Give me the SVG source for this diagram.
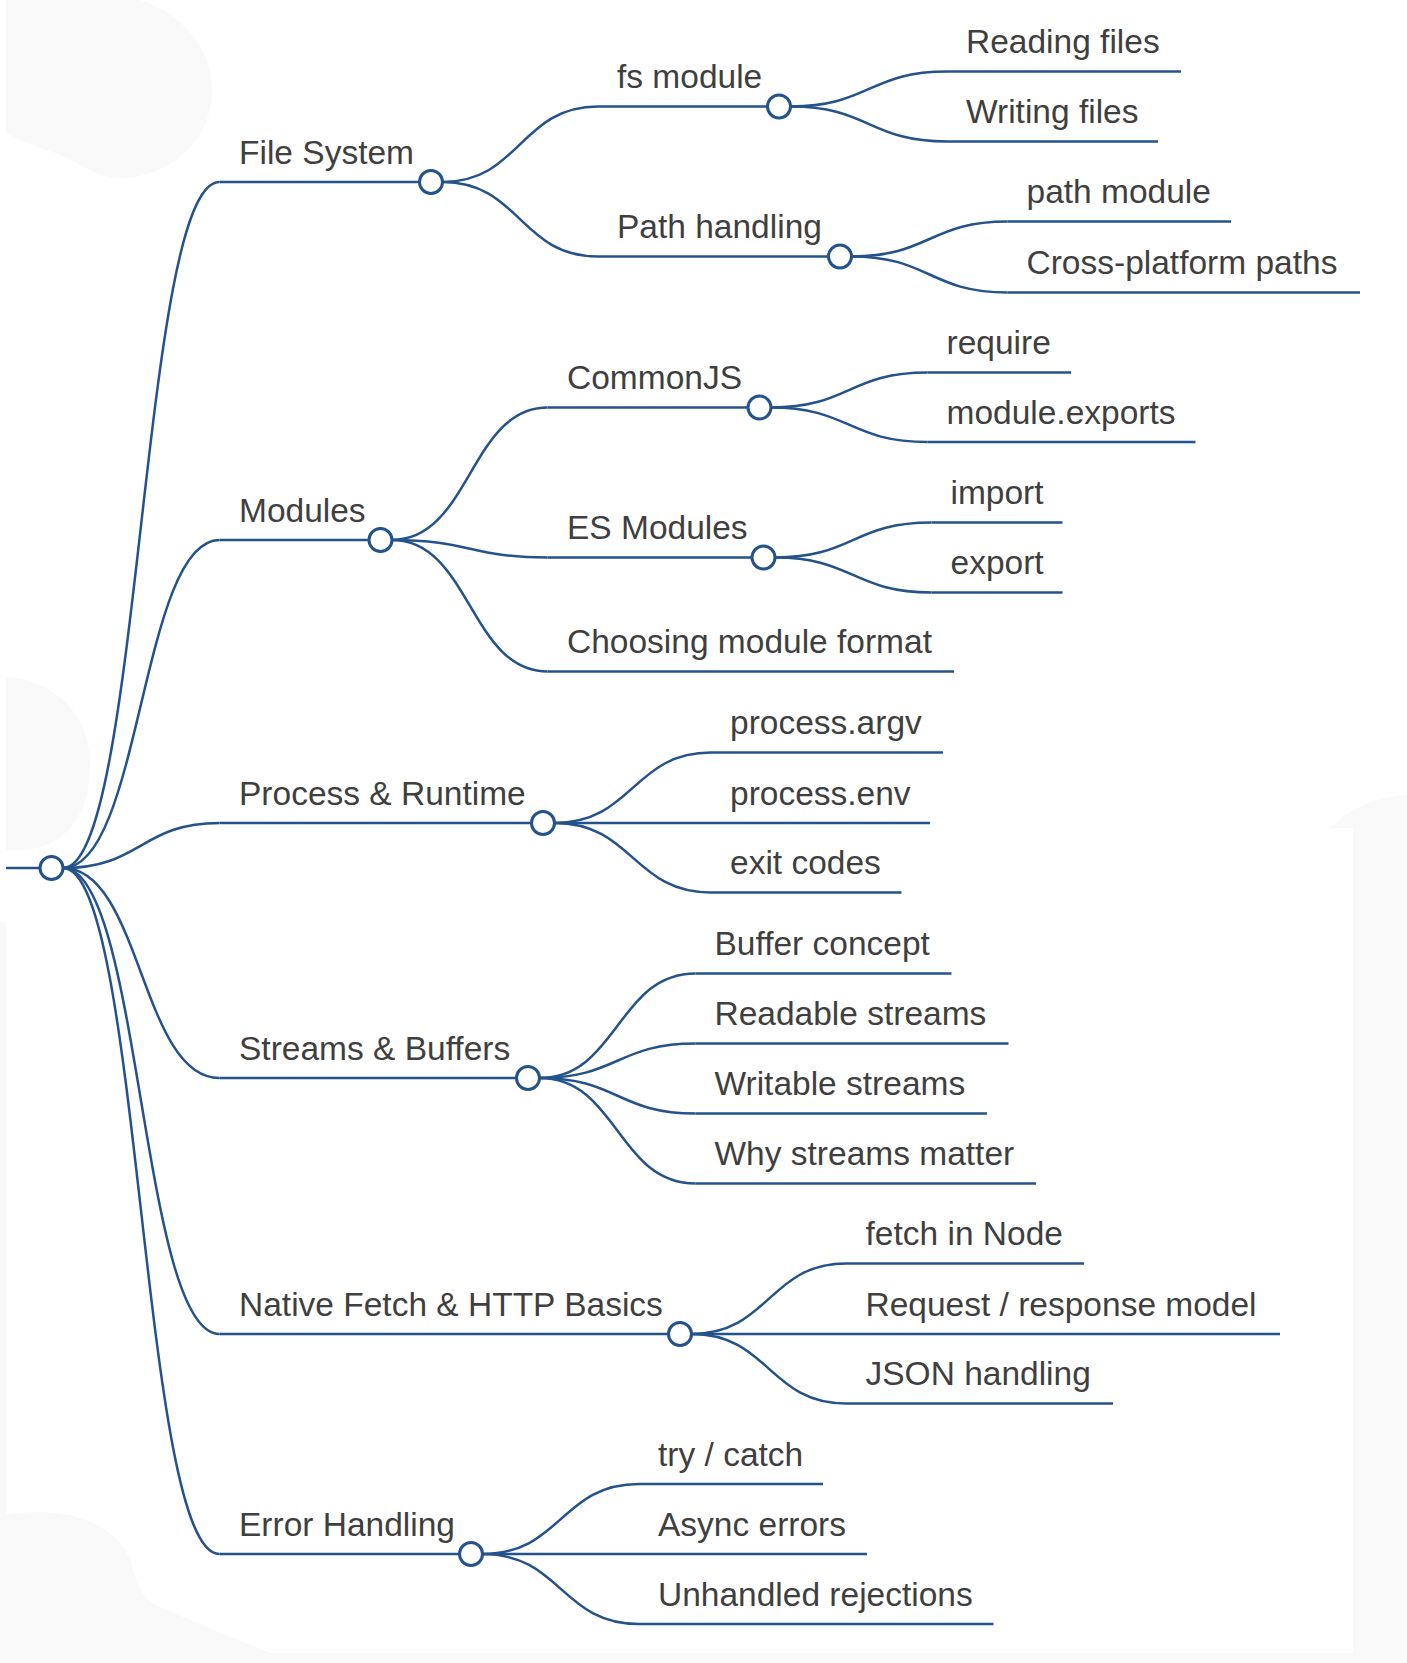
<svg xmlns="http://www.w3.org/2000/svg" width="1407" height="1663" viewBox="0 0 1407 1663">
<style>
.bg{fill:#f9f9f9}
.link{fill:none;stroke:#24528a;stroke-width:2.5}
.ul{fill:none;stroke:#24528a;stroke-width:2.5}
.dot{fill:#ffffff;stroke:#24528a;stroke-width:3}
.lbl{font-family:"Liberation Sans",Arial,sans-serif;font-size:33.5px;fill:#3f3f3f}
</style>
<rect x="0" y="0" width="1407" height="1663" fill="#ffffff"/>
<g id="background">
<path class="bg" d="M6,0 H140 C185,15 212,50 212,90 C212,140 170,178 120,178 C95,178 80,162 60,155 C40,148 20,140 6,133 Z"/>
<path class="bg" d="M6,677 C50,680 90,710 90,765 C90,820 60,850 20,850 L6,850 Z"/>
<rect class="bg" x="0" y="922" width="6" height="741"/>
<path class="bg" d="M6,1515 C60,1505 115,1520 130,1560 C138,1585 140,1598 160,1607 C200,1625 240,1640 270,1653 L6,1653 Z"/>
<rect class="bg" x="0" y="1653" width="1407" height="10"/>
<rect class="bg" x="1353" y="828" width="54" height="835"/>
<path class="bg" d="M1330,828 C1350,808 1375,797 1407,795 L1407,828 Z"/>
</g>
<g id="connectors">
<path class="link" d="M63,868 C141,868 141,182 219.5,182"/>
<path class="link" d="M63,868 C141,868 141,540 219.5,540"/>
<path class="link" d="M63,868 C141,868 141,823 219.5,823"/>
<path class="link" d="M63,868 C141,868 141,1078 219.5,1078"/>
<path class="link" d="M63,868 C141,868 141,1334 219.5,1334"/>
<path class="link" d="M63,868 C141,868 141,1554 219.5,1554"/>
<path class="link" d="M442.5,182 C520,182 520,106.5 598,106.5"/>
<path class="link" d="M442.5,182 C520,182 520,256.5 598,256.5"/>
<path class="link" d="M392,540 C470,540 470,407.5 547.5,407.5"/>
<path class="link" d="M392,540 C470,540 470,557.5 547.5,557.5"/>
<path class="link" d="M392,540 C470,540 470,671.5 547.5,671.5"/>
<path class="link" d="M554.5,823 C633,823 633,752.5 711,752.5"/>
<path class="link" d="M554.5,823 L711,823"/>
<path class="link" d="M554.5,823 C633,823 633,892.5 711,892.5"/>
<path class="link" d="M539.5,1078 C617.5,1078 617.5,973.5 695.5,973.5"/>
<path class="link" d="M539.5,1078 C617.5,1078 617.5,1043.5 695.5,1043.5"/>
<path class="link" d="M539.5,1078 C617.5,1078 617.5,1113.5 695.5,1113.5"/>
<path class="link" d="M539.5,1078 C617.5,1078 617.5,1183.5 695.5,1183.5"/>
<path class="link" d="M691.5,1334 C769,1334 769,1263.5 846,1263.5"/>
<path class="link" d="M691.5,1334 L846,1334"/>
<path class="link" d="M691.5,1334 C769,1334 769,1403.5 846,1403.5"/>
<path class="link" d="M482.5,1554 C561,1554 561,1484 639,1484"/>
<path class="link" d="M482.5,1554 L639,1554"/>
<path class="link" d="M482.5,1554 C561,1554 561,1624 639,1624"/>
<path class="link" d="M790.5,106.5 C869,106.5 869,71.5 947,71.5"/>
<path class="link" d="M790.5,106.5 C869,106.5 869,141.5 947,141.5"/>
<path class="link" d="M851.5,256.5 C929.5,256.5 929.5,221.5 1007.5,221.5"/>
<path class="link" d="M851.5,256.5 C929.5,256.5 929.5,292.5 1007.5,292.5"/>
<path class="link" d="M771,407.5 C849,407.5 849,372.5 927.5,372.5"/>
<path class="link" d="M771,407.5 C849,407.5 849,442 927.5,442"/>
<path class="link" d="M775,557.5 C853,557.5 853,522.5 931.5,522.5"/>
<path class="link" d="M775,557.5 C853,557.5 853,592.5 931.5,592.5"/>
</g>
<g id="node-root"><line class="ul" x1="6" y1="868" x2="51.5" y2="868"/><circle class="dot" cx="51.5" cy="868" r="11.5"/></g>
<g id="node-file-system"><line class="ul" x1="219.5" y1="182" x2="431" y2="182"/><text class="lbl" x="239" y="163.5">File System</text><circle class="dot" cx="431" cy="182" r="11.5"/></g>
<g id="node-fs-module"><line class="ul" x1="598" y1="106.5" x2="779" y2="106.5"/><text class="lbl" x="617" y="88">fs module</text><circle class="dot" cx="779" cy="106.5" r="11.5"/></g>
<g id="node-reading-files"><line class="ul" x1="947" y1="71.5" x2="1181" y2="71.5"/><text class="lbl" x="966" y="53">Reading files</text></g>
<g id="node-writing-files"><line class="ul" x1="947" y1="141.5" x2="1158" y2="141.5"/><text class="lbl" x="966" y="123">Writing files</text></g>
<g id="node-path-handling"><line class="ul" x1="598" y1="256.5" x2="840" y2="256.5"/><text class="lbl" x="617" y="238">Path handling</text><circle class="dot" cx="840" cy="256.5" r="11.5"/></g>
<g id="node-path-module"><line class="ul" x1="1007.5" y1="221.5" x2="1231" y2="221.5"/><text class="lbl" x="1026.5" y="203">path module</text></g>
<g id="node-cross-platform"><line class="ul" x1="1007.5" y1="292.5" x2="1360" y2="292.5"/><text class="lbl" x="1026.5" y="274">Cross-platform paths</text></g>
<g id="node-modules"><line class="ul" x1="219.5" y1="540" x2="380.5" y2="540"/><text class="lbl" x="239" y="521.5">Modules</text><circle class="dot" cx="380.5" cy="540" r="11.5"/></g>
<g id="node-commonjs"><line class="ul" x1="547.5" y1="407.5" x2="759.5" y2="407.5"/><text class="lbl" x="567" y="389">CommonJS</text><circle class="dot" cx="759.5" cy="407.5" r="11.5"/></g>
<g id="node-require"><line class="ul" x1="927.5" y1="372.5" x2="1071" y2="372.5"/><text class="lbl" x="946.5" y="354">require</text></g>
<g id="node-module-exports"><line class="ul" x1="927.5" y1="442" x2="1195.5" y2="442"/><text class="lbl" x="946.5" y="423.5">module.exports</text></g>
<g id="node-es-modules"><line class="ul" x1="547.5" y1="557.5" x2="763.5" y2="557.5"/><text class="lbl" x="567" y="539">ES Modules</text><circle class="dot" cx="763.5" cy="557.5" r="11.5"/></g>
<g id="node-import"><line class="ul" x1="931.5" y1="522.5" x2="1062.5" y2="522.5"/><text class="lbl" x="950.5" y="504">import</text></g>
<g id="node-export"><line class="ul" x1="931.5" y1="592.5" x2="1062.5" y2="592.5"/><text class="lbl" x="950.5" y="574">export</text></g>
<g id="node-choosing"><line class="ul" x1="547.5" y1="671.5" x2="954" y2="671.5"/><text class="lbl" x="567" y="653">Choosing module format</text></g>
<g id="node-process"><line class="ul" x1="219.5" y1="823" x2="543" y2="823"/><text class="lbl" x="239" y="804.5">Process &amp; Runtime</text><circle class="dot" cx="543" cy="823" r="11.5"/></g>
<g id="node-argv"><line class="ul" x1="711" y1="752.5" x2="943" y2="752.5"/><text class="lbl" x="730" y="734">process.argv</text></g>
<g id="node-env"><line class="ul" x1="711" y1="823" x2="930" y2="823"/><text class="lbl" x="730" y="804.5">process.env</text></g>
<g id="node-exit"><line class="ul" x1="711" y1="892.5" x2="901.5" y2="892.5"/><text class="lbl" x="730" y="874">exit codes</text></g>
<g id="node-streams"><line class="ul" x1="219.5" y1="1078" x2="528" y2="1078"/><text class="lbl" x="239" y="1059.5">Streams &amp; Buffers</text><circle class="dot" cx="528" cy="1078" r="11.5"/></g>
<g id="node-buffer"><line class="ul" x1="695.5" y1="973.5" x2="951.5" y2="973.5"/><text class="lbl" x="714.5" y="955">Buffer concept</text></g>
<g id="node-readable"><line class="ul" x1="695.5" y1="1043.5" x2="1008.5" y2="1043.5"/><text class="lbl" x="714.5" y="1025">Readable streams</text></g>
<g id="node-writable"><line class="ul" x1="695.5" y1="1113.5" x2="987" y2="1113.5"/><text class="lbl" x="714.5" y="1095">Writable streams</text></g>
<g id="node-why"><line class="ul" x1="695.5" y1="1183.5" x2="1036" y2="1183.5"/><text class="lbl" x="714.5" y="1165">Why streams matter</text></g>
<g id="node-fetch"><line class="ul" x1="219.5" y1="1334" x2="680" y2="1334"/><text class="lbl" x="239" y="1315.5">Native Fetch &amp; HTTP Basics</text><circle class="dot" cx="680" cy="1334" r="11.5"/></g>
<g id="node-fetch-node"><line class="ul" x1="846" y1="1263.5" x2="1084" y2="1263.5"/><text class="lbl" x="865.5" y="1245">fetch in Node</text></g>
<g id="node-reqres"><line class="ul" x1="846" y1="1334" x2="1280" y2="1334"/><text class="lbl" x="865.5" y="1315.5">Request / response model</text></g>
<g id="node-json"><line class="ul" x1="846" y1="1403.5" x2="1113" y2="1403.5"/><text class="lbl" x="865.5" y="1385">JSON handling</text></g>
<g id="node-error"><line class="ul" x1="219.5" y1="1554" x2="471" y2="1554"/><text class="lbl" x="239" y="1535.5">Error Handling</text><circle class="dot" cx="471" cy="1554" r="11.5"/></g>
<g id="node-try"><line class="ul" x1="639" y1="1484" x2="823" y2="1484"/><text class="lbl" x="658" y="1465.5">try / catch</text></g>
<g id="node-async"><line class="ul" x1="639" y1="1554" x2="867" y2="1554"/><text class="lbl" x="658" y="1535.5">Async errors</text></g>
<g id="node-unhandled"><line class="ul" x1="639" y1="1624" x2="993.5" y2="1624"/><text class="lbl" x="658" y="1605.5">Unhandled rejections</text></g>
</svg>
